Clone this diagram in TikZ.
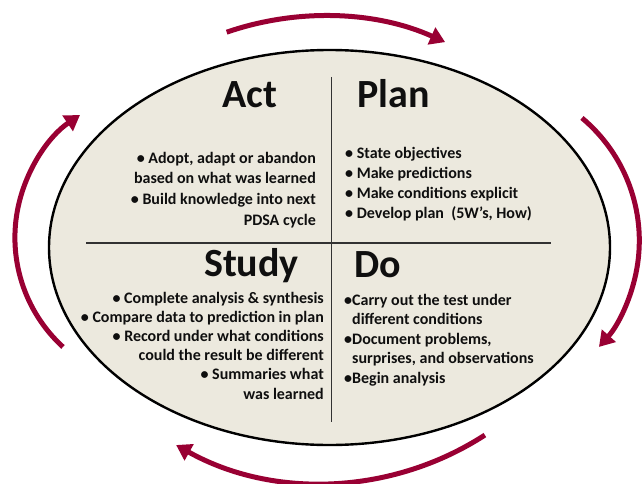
\documentclass[tikz,border=0pt]{standalone}
\usepackage{fontspec}
\setmainfont{Carlito}
\usetikzlibrary{shapes.geometric,arrows.meta,calc}
\definecolor{ovalfill}{RGB}{236,233,222}
\definecolor{cyclered}{RGB}{153,0,51}
\definecolor{divider}{RGB}{50,50,50}
\definecolor{ink}{RGB}{15,15,15}
\begin{document}
\begin{tikzpicture}[x=1pt,y=1pt,
  oval/.style={ellipse, draw=black, line width=2.4pt, fill=ovalfill, inner sep=0pt,
    minimum width=561pt, minimum height=395pt},
  divline/.style={draw=divider, line width=1.2pt},
  cyclearrow/.style={draw=cyclered, line width=5pt,
    -{Triangle[length=15pt,width=18pt]}},
  title/.style={font=\fontsize{40}{48}\selectfont\bfseries, text=ink, inner sep=0pt},
  body/.style={font=\fontsize{16}{19}\selectfont\bfseries, text=ink, inner sep=0pt}]
\useasboundingbox (0,0) rectangle (644,483);
\fill[white] (0,0) rectangle (644,483);

% oval
\node[oval] (ov) at (329.5,235.5) {};

% dividers
\coordinate (vtop) at (331.5,406);
\coordinate (vbot) at (331.5,61);
\coordinate (hl) at (86,240);
\coordinate (hr) at (551,240);
\draw[divline] (vtop) -- (vbot);
\draw[divline] (hl) -- (hr);

% cycle arrows (circular arcs)
\coordinate (tcen) at (323.4,170);
\coordinate (rcen) at (479.3,242.3);
\coordinate (bcen) at (322.2,299.4);
\coordinate (lcen) at (163.1,245.3);
\draw[cyclearrow] ($(tcen)+(109:297pt)$) arc[start angle=109, end angle=65.8, radius=297pt];
\draw[cyclearrow] ($(rcen)+(50.1:160pt)$) arc[start angle=50.1, end angle=-41.6, radius=160pt];
\draw[cyclearrow] ($(bcen)+(-57.1:299.5pt)$) arc[start angle=-57.1, end angle=-119.2, radius=299.5pt];
\draw[cyclearrow] ($(lcen)+(227.5:148.2pt)$) arc[start angle=227.5, end angle=124.1, radius=148.2pt];

% titles
\node[title, anchor=base west] (act) at (222,376) {Act};
\node[title, anchor=base west] (plan) at (357,376) {Plan};
\node[title, anchor=base east] (study) at (299,207) {Study};
\node[title, anchor=base west] (do) at (354,206) {Do};

% Act text
\foreach \txt [count=\i] in {{• Adopt, adapt or abandon},{based on what was learned},{• Build knowledge into next},{PDSA cycle}}
  \node[body, anchor=base east] (act\i) at (316,{320-(\i-1)*20.67}) {\txt};

% Plan text
\foreach \txt [count=\i] in {{• State objectives},{• Make predictions},{• Make conditions explicit},{• Develop plan~ (5W’s, How)}}
  \node[body, anchor=base west] (plan\i) at (345,{325-(\i-1)*20}) {\txt};

% Study text
\foreach \txt [count=\i] in {{• Complete analysis \& synthesis},{• Compare data to prediction in plan},{• Record under what conditions},{could the result be different},{• Summaries what},{was learned}}
  \node[body, anchor=base east] (study\i) at (324,{180-(\i-1)*19.2}) {\txt};

% Do text
\foreach \txt [count=\i] in {{•Carry out the test under},{\phantom{•}different conditions},{•Document problems,},{\phantom{•}surprises, and observations},{•Begin analysis}}
  \node[body, anchor=base west] (do\i) at (344,{178-(\i-1)*19.5}) {\txt};
\end{tikzpicture}
\end{document}
